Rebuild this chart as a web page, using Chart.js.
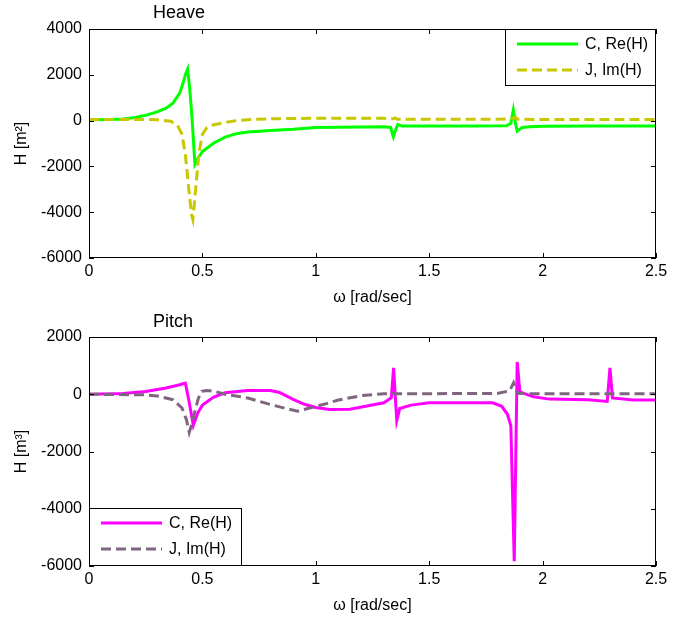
<!DOCTYPE html>
<html>
<head>
<meta charset="utf-8">
<script src="https://cdn.jsdelivr.net/npm/chart.js@4.4.1/dist/chart.umd.min.js"></script>
<style>
    body { margin: 0; background: #fff; }
    canvas { display: block; }
</style>
</head>
<body>
<canvas id="heave" width="692" height="311"></canvas>
<canvas id="pitch" width="692" height="311"></canvas>
<script>
// frequency axis, rad/sec
const xTicks = [0, 0.5, 1, 1.5, 2, 2.5];
const heaveTicks = [-6000, -4000, -2000, 0, 2000, 4000];
const pitchTicks = [-6000, -4000, -2000, 0, 2000];

// Heave, C = Re(H)
const heaveReW = [0, 0.1, 0.15, 0.2, 0.25, 0.3, 0.34, 0.37, 0.4, 0.415, 0.425, 0.435, 0.445, 0.455, 0.467, 0.48, 0.5, 0.55, 0.6, 0.65, 0.7, 0.8, 0.9, 1.0, 1.1, 1.2, 1.3, 1.33, 1.342, 1.352, 1.362, 1.38, 1.5, 1.7, 1.84, 1.86, 1.871, 1.88, 1.888, 1.91, 1.944, 2.0, 2.2, 2.5];
const heaveRe = [40, 50, 70, 130, 230, 380, 540, 760, 1200, 1650, 2000, 2250, 1300, 0, -1900, -1650, -1350, -980, -720, -570, -500, -430, -380, -300, -290, -280, -270, -300, -700, -400, -170, -240, -240, -240, -230, -120, 460, -100, -460, -300, -270, -250, -240, -240];

// Heave, J = Im(H)
const heaveImW = [0, 0.2, 0.3, 0.36, 0.39, 0.41, 0.425, 0.44, 0.452, 0.458, 0.47, 0.485, 0.5, 0.52, 0.55, 0.6, 0.65, 0.7, 0.8, 1.0, 1.2, 1.3, 1.34, 1.35, 1.36, 1.5, 1.8, 1.87, 1.88, 1.89, 2.0, 2.5];
const heaveIm = [50, 50, 40, -30, -200, -600, -1500, -3000, -4100, -4320, -3000, -1400, -600, -300, -180, -80, 0, 40, 80, 100, 100, 100, 80, 120, 60, 55, 55, 90, 150, 60, 50, 50];

// Pitch, C = Re(H)
const pitchReW = [0, 0.15, 0.25, 0.34, 0.4, 0.425, 0.44, 0.46, 0.48, 0.5, 0.55, 0.6, 0.7, 0.8, 0.84, 0.9, 0.95, 1.0, 1.06, 1.15, 1.22, 1.3, 1.333, 1.343, 1.357, 1.37, 1.42, 1.5, 1.78, 1.82, 1.845, 1.86, 1.875, 1.888, 1.9, 1.96, 2.03, 2.2, 2.285, 2.297, 2.308, 2.4, 2.5];
const pitchRe = [0, 30, 100, 220, 330, 390, -200, -1090, -650, -380, -100, 50, 130, 130, 60, -180, -350, -460, -530, -520, -420, -300, -120, 920, -920, -500, -380, -300, -300, -420, -700, -1100, -5830, 1130, 80, -90, -170, -190, -250, 920, -130, -200, -200];

// Pitch, J = Im(H)
const pitchImW = [0, 0.25, 0.3, 0.37, 0.41, 0.43, 0.442, 0.455, 0.467, 0.482, 0.497, 0.52, 0.55, 0.6, 0.7, 0.8, 0.87, 0.92, 0.99, 1.05, 1.1, 1.2, 1.3, 1.5, 1.8, 1.855, 1.872, 1.89, 1.95, 2.5];
const pitchIm = [0, -20, -60, -190, -480, -900, -1330, -1000, -600, -150, 100, 130, 110, 0, -130, -360, -500, -590, -450, -320, -200, -50, 20, 20, 30, 120, 400, 30, 20, 20];

const FONT = "'Liberation Sans', Arial, sans-serif";

function toPoints(w, h) {
    return w.map((x, i) => ({ x: x, y: h[i] }));
}

/* matlab style box with inward ticks, plus title and legend */
const matlabAxes = {
    id: 'matlabAxes',
    afterDraw(chart, args, opts) {
        const ctx = chart.ctx;
        const a = chart.chartArea;
        const xs = chart.scales.x, ys = chart.scales.y;
        ctx.save();
        ctx.strokeStyle = '#000';
        ctx.lineWidth = 1;
        ctx.beginPath();
        xs.ticks.forEach(t => {
            const px = Math.round(xs.getPixelForValue(t.value)) + 0.5;
            ctx.moveTo(px, a.bottom); ctx.lineTo(px, a.bottom - 5);
            ctx.moveTo(px, a.top); ctx.lineTo(px, a.top + 5);
        });
        ys.ticks.forEach(t => {
            const py = Math.round(ys.getPixelForValue(t.value)) + 0.5;
            ctx.moveTo(a.left, py); ctx.lineTo(a.left + 5, py);
            ctx.moveTo(a.right, py); ctx.lineTo(a.right - 5, py);
        });
        ctx.stroke();
        ctx.strokeRect(Math.round(a.left) + 0.5, Math.round(a.top) + 0.5, Math.round(a.width) - 1, Math.round(a.height) - 1);

        // title
        ctx.fillStyle = '#000';
        ctx.font = '18px ' + FONT;
        ctx.textAlign = 'left';
        ctx.textBaseline = 'middle';
        ctx.fillText(opts.title, opts.titleX, opts.titleY);

        // legend box
        ctx.font = '16px ' + FONT;
        const lg = opts.legend;
        const bx = lg.right ? a.right - lg.w : a.left;
        const by = lg.bottom ? a.bottom - lg.h : a.top;
        ctx.fillStyle = '#fff';
        ctx.fillRect(bx, by, lg.w, lg.h);
        ctx.strokeRect(Math.round(bx) + 0.5, Math.round(by) + 0.5, lg.w - 1, lg.h - 1);
        const ds = chart.data.datasets;
        ds.forEach((d, i) => {
            const ly = by + 15 + i * 26;
            ctx.strokeStyle = d.borderColor;
            ctx.lineWidth = 3;
            ctx.setLineDash(d.borderDash || []);
            ctx.beginPath();
            ctx.moveTo(bx + 12, ly);
            ctx.lineTo(bx + 73, ly);
            ctx.stroke();
            ctx.setLineDash([]);
            ctx.fillStyle = '#000';
            ctx.fillText(d.label, bx + 80, ly + 1);
        });
        ctx.restore();
    }
};

function paintGraph(id, re, im, reColor, imColor, yTicks, yTitle, title, legend, bottomPad) {
    const ctx = document.getElementById(id).getContext('2d');
    return new Chart(ctx, {
        type: 'line',
        data: {
            datasets: [{
                label: 'C, Re(H)',
                data: re,
                borderColor: reColor,
                borderWidth: 3,
                pointRadius: 0,
                tension: 0,
                order: 2
            }, {
                label: 'J, Im(H)',
                data: im,
                borderColor: imColor,
                borderWidth: 3,
                borderDash: [10, 5],
                pointRadius: 0,
                tension: 0,
                order: 1
            }]
        },
        options: {
            responsive: false,
            animation: false,
            layout: { padding: { top: title.areaTop, right: 36, left: 0, bottom: 0 } },
            plugins: {
                legend: { display: false },
                tooltip: { enabled: false },
                matlabAxes: { title: title.text, titleX: title.x, titleY: title.y, legend: legend }
            },
            scales: {
                x: {
                    type: 'linear',
                    min: 0,
                    max: 2.5,
                    afterBuildTicks: s => { s.ticks = xTicks.map(v => ({ value: v })); },
                    afterFit: s => { s.height = title.axisH; },
                    grid: { display: false, drawTicks: false },
                    border: { display: false },
                    ticks: { padding: 4, color: '#000', font: { family: FONT, size: 16 }, callback: v => String(v), maxRotation: 0 },
                    title: { display: true, text: 'ω [rad/sec]', color: '#000', font: { family: FONT, size: 16 }, padding: { top: 0, bottom: bottomPad } }
                },
                y: {
                    min: yTicks[0],
                    max: yTicks[yTicks.length - 1],
                    afterBuildTicks: s => { s.ticks = yTicks.map(v => ({ value: v })); },
                    afterFit: s => { s.width = 89; },
                    grid: { display: false, drawTicks: false },
                    border: { display: false },
                    ticks: { padding: 7, color: '#000', font: { family: FONT, size: 16 }, callback: v => String(v) },
                    title: { display: true, text: yTitle, color: '#000', font: { family: FONT, size: 16 }, padding: { top: 12, bottom: 0 } }
                }
            }
        },
        plugins: [matlabAxes]
    });
}

paintGraph('heave', toPoints(heaveReW, heaveRe), toPoints(heaveImW, heaveIm),
    '#00ff00', '#c8c800', heaveTicks, 'H [m²]',
    { text: 'Heave', x: 153, y: 13, areaTop: 29, axisH: 53 },
    { w: 151, h: 57, right: true, bottom: false }, 4);

paintGraph('pitch', toPoints(pitchReW, pitchRe), toPoints(pitchImW, pitchIm),
    '#ff00ff', '#7f6580', pitchTicks, 'H [m³]',
    { text: 'Pitch', x: 153, y: 11, areaTop: 26, axisH: 56 },
    { w: 153, h: 58, right: false, bottom: true }, 7);
</script>
</body>
</html>
